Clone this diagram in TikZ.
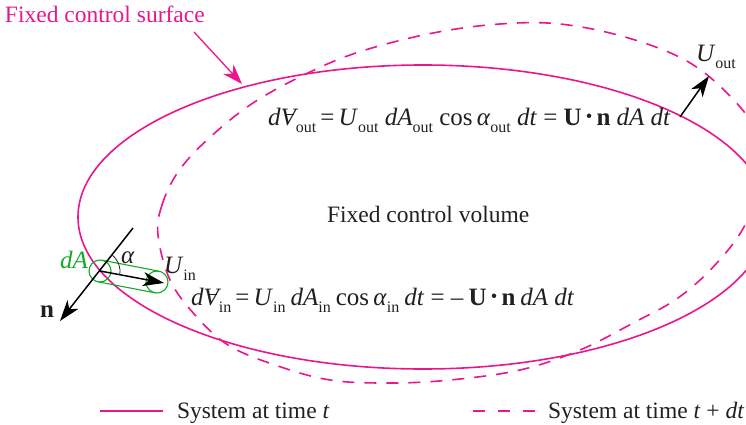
\documentclass[tikz,border=0pt]{standalone}
\usepackage{fontspec}
\setmainfont{Liberation Serif}
\usetikzlibrary{arrows.meta,calc}
\definecolor{mag}{RGB}{233,22,140}
\definecolor{grn}{RGB}{20,170,40}
\definecolor{ink}{RGB}{35,31,32}
\newcommand{\lo}[1]{\raisebox{-0.28em}{\fontsize{16}{16}\selectfont\upshape #1}}
\newcommand{\Vb}{{\itshape\ooalign{V\cr\hidewidth\kern0.12em\raisebox{0.40em}{\rule{0.34em}{0.045em}}\hidewidth\cr}}}
\newcommand{\dotp}{\,\raisebox{0.12em}{\scalebox{0.75}{\textbullet}}\,}
\begin{document}
\begin{tikzpicture}[x=1pt,y=-1pt,
  lbl/.style={inner sep=0pt,outer sep=0pt,text=ink,font=\fontsize{23.5}{26}\selectfont},
  eq/.style={lbl,font=\fontsize{25}{28}\selectfont},
  magline/.style={draw=mag,line width=1.6pt},
  magdash/.style={draw=mag,line width=1.6pt,dash pattern=on 12pt off 10pt},
  blkarrow/.style={draw=black,line width=1.5pt,-{Stealth[length=21pt,width=14pt,inset=6pt]}},
  greenline/.style={draw=grn,line width=1.1pt}]
\useasboundingbox (0,0) rectangle (746,425);
\clip (0,0) rectangle (746,425);
% control surface (solid ellipse)
\draw[magline] (423,217) ellipse [x radius=345pt, y radius=152pt];
% system at t+dt (dashed)
\draw[magdash] plot[smooth cycle, tension=0.6] coordinates {
 (158,235) (162,205) (178,172) (207,140) (253,103) (310,72) (362,51) (433,33)
 (500,24) (560,24) (625,37) (685,60) (727,93) (755,130) (762,175) (745,225)
 (715,265) (678,298) (635,322) (580,350) (520,370) (450,380) (390,383) (330,380)
 (275,365) (228,345) (195,315) (170,280)};
% labels
\node[lbl,text=mag,anchor=base west] (fcs) at (5,23) {Fixed control surface};
\coordinate (fcsA) at (194,32);
\coordinate (fcsB) at (242,84);
\draw[draw=mag,line width=1.3pt,-{Stealth[length=20pt,width=14pt,inset=6pt]}] (fcsA) -- (fcsB);
\node[lbl,anchor=base west] (fcv) at (327,222) {Fixed control volume};
\node[eq,anchor=base west] (eqout) at (268,125) {\textit{d}\Vb\lo{out}\,=\,\textit{U}\lo{out} \textit{dA}\lo{out} cos\,\textit{α}\lo{out} \textit{dt} = \textbf{U}\dotp\textbf{n} \textit{dA dt}};
\node[eq,anchor=base west] (eqin) at (191,305) {\textit{d}\Vb\lo{in}\,=\,\textit{U}\lo{in}\hspace{0.2em}\textit{dA}\lo{in}\hspace{0.2em}cos\,\textit{α}\lo{in}\hspace{0.2em}\textit{dt} = –\hspace{0.2em}\textbf{U}\dotp\textbf{n}\hspace{0.2em}\textit{dA dt}};
% U_out
\coordinate (uoA) at (680,117);
\coordinate (uoB) at (709,76);
\draw[blkarrow] (uoA) -- (uoB);
\node[eq,anchor=base west] (uout) at (696,62) {\textit{U}\lo{out}};
% inlet detail
\coordinate (P) at (100,271);
\coordinate (Q) at (157,282);
\coordinate (tipU) at (164,283);
\coordinate (ntop) at (133,228);
\coordinate (ntip) at (60,321);
\draw[greenline] (P) circle [radius=11pt];
\draw[greenline] (Q) circle [radius=11pt];
\draw[greenline] ($(P)!11pt!90:(Q)$) -- ($(Q)!11pt!-90:(P)$);
\draw[greenline] ($(P)!11pt!-90:(Q)$) -- ($(Q)!11pt!90:(P)$);
\draw[blkarrow] (P) -- (tipU);
\draw[blkarrow] (ntop) -- (ntip);
\draw[draw=ink,line width=0.8pt] ($(P)+(53.1:20pt)$) arc[start angle=53.1,end angle=-10.9,radius=20pt];
\node[eq,anchor=base west] (alpha) at (121,263) {\textit{α}};
\node[eq,text=grn,anchor=base west] (dA) at (60,268) {\textit{dA}};
\node[eq,anchor=base west] (uin) at (164,273) {\textit{U}\lo{in}};
\node[eq,anchor=base west] (n) at (40,317) {\textbf{n}};
% legend
\coordinate (l1a) at (100,411);
\coordinate (l1b) at (163,411);
\draw[magline] (l1a) -- (l1b);
\node[lbl,anchor=base west] (leg1) at (177,418) {System at time \textit{t}};
\coordinate (l2a) at (473,411);
\coordinate (l2b) at (535,411);
\draw[magdash,dash pattern=on 12pt off 13pt] (l2a) -- (l2b);
\node[lbl,anchor=base west] (leg2) at (548,418) {System at time \textit{t} + \textit{dt}};
\end{tikzpicture}
\end{document}
